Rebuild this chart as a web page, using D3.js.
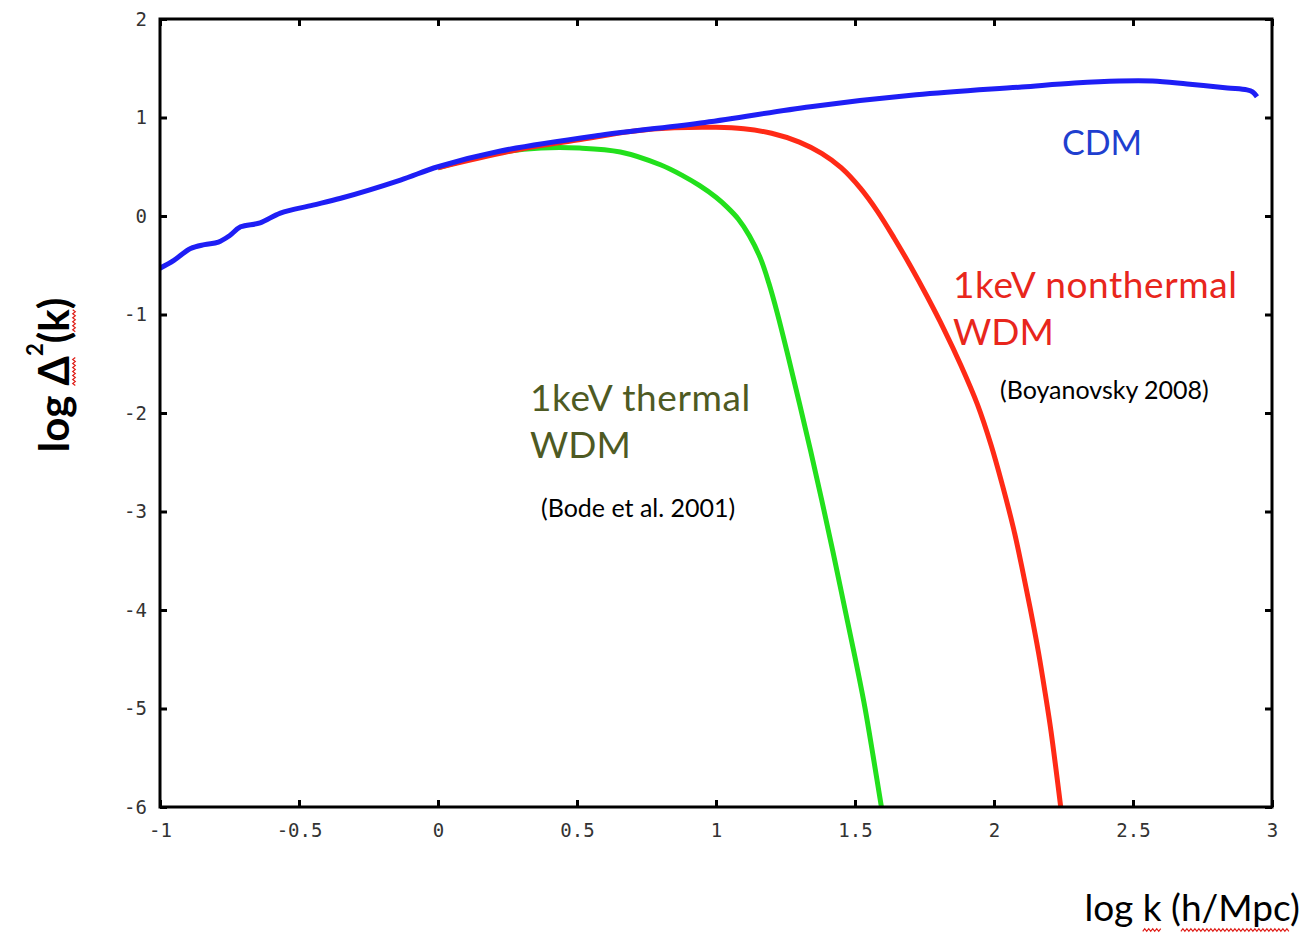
<!DOCTYPE html>
<html>
<head>
<meta charset="utf-8">
<script src="https://cdn.jsdelivr.net/npm/d3@7"></script>
<style>
  body { margin: 0; background: #fff; }
  svg { display: block; }
  .ax text { font-family: 'DejaVu Sans Mono', monospace; font-size: 19px; fill: #333; }
  .ax line { stroke: #000; stroke-width: 3px; }
  .ax path { display: none; }
  .lbl { font-family: Lato, 'Open Sans', sans-serif; }
</style>
</head>
<body>
<svg id="chart"></svg>
<script>
// values: log k (h/Mpc) and log Delta^2(k)
var cdmK = [-1, -0.95, -0.89, -0.84, -0.79, -0.75, -0.71, -0.64, -0.567, -0.45, -0.35, -0.135, 0, 0.225, 0.584, 0.96, 1.34, 1.72, 2.10, 2.29, 2.45, 2.57, 2.695, 2.84, 2.91, 2.93, 2.946]
var cdmD = [-0.53, -0.45, -0.33, -0.29, -0.265, -0.2, -0.11, -0.07, 0.03, 0.11, 0.18, 0.365, 0.5, 0.66, 0.82, 0.95, 1.11, 1.23, 1.31, 1.35, 1.37, 1.37, 1.34, 1.30, 1.28, 1.26, 1.21]

var thermalK = [0, 0.2, 0.37, 0.51, 0.656, 0.80, 0.88, 0.94, 1.0, 1.04, 1.08, 1.12, 1.16, 1.19, 1.22, 1.26, 1.30, 1.34, 1.38, 1.42, 1.46, 1.50, 1.535, 1.565, 1.595]
var thermalD = [0.49, 0.635, 0.69, 0.69, 0.65, 0.52, 0.41, 0.31, 0.19, 0.09, -0.03, -0.2, -0.43, -0.68, -0.98, -1.43, -1.9, -2.38, -2.88, -3.4, -3.94, -4.48, -4.98, -5.48, -6.0]

var nonthermalK = [0, 0.3, 0.5, 0.7, 0.85, 1.0, 1.10, 1.20, 1.30, 1.38, 1.45, 1.52, 1.58, 1.64, 1.70, 1.76, 1.82, 1.88, 1.94, 1.99, 2.03, 2.07, 2.10, 2.13, 2.16, 2.185, 2.205, 2.24]
var nonthermalD = [0.49, 0.68, 0.77, 0.86, 0.895, 0.90, 0.885, 0.84, 0.75, 0.635, 0.49, 0.28, 0.05, -0.22, -0.51, -0.82, -1.15, -1.51, -1.91, -2.33, -2.73, -3.17, -3.56, -3.98, -4.43, -4.86, -5.23, -6.0]

var xTicks = [-1, -0.5, 0, 0.5, 1, 1.5, 2, 2.5, 3]
var yTicks = [-6, -5, -4, -3, -2, -1, 0, 1, 2]

var width = 1308
var height = 936
var margin = {top: 19, right: 36, bottom: 129, left: 160}
var innerw = width - margin.left - margin.right
var innerh = height - margin.top - margin.bottom

var svg = d3.select('#chart').attr('width', width).attr('height', height)

var mapx = d3.scaleLinear().domain([-1, 3]).range([0, innerw])
var mapy = d3.scaleLinear().domain([-6, 2]).range([innerh, 0])

var g = svg.append('g').attr('transform', `translate(${margin.left},${margin.top})`)

g.append('clipPath').attr('id', 'clip')
    .append('rect')
    .attr('width', innerw)
    .attr('height', innerh)

/*
    curves (green and red below, CDM on top)
*/
var series = [
  {k: thermalK, d: thermalD, color: '#22e01c'},
  {k: nonthermalK, d: nonthermalD, color: '#ff2a16'},
  {k: cdmK, d: cdmD, color: '#1e1ef5'}
]

var line = d3.line()
    .x(p => mapx(p[0]))
    .y(p => mapy(p[1]))
    .curve(d3.curveCatmullRom.alpha(0.5))

g.append('g')
    .attr('clip-path', 'url(#clip)')
    .selectAll('path.curve')
    .data(series)
    .enter()
    .append('path')
    .classed('curve', true)
    .attr('d', s => line(s.k.map((v, i) => [v, s.d[i]])))
    .attr('fill', 'none')
    .attr('stroke', s => s.color)
    .attr('stroke-width', 5)
    .attr('stroke-linejoin', 'round')

/*
    axes, ticks pointing inwards on all four sides
*/
g.append('g').classed('ax', true)
    .attr('transform', `translate(0,${innerh})`)
    .call(d3.axisBottom(mapx).tickValues(xTicks).tickSize(-7).tickPadding(17).tickFormat(String))

g.append('g').classed('ax', true)
    .call(d3.axisTop(mapx).tickValues(xTicks).tickSize(-7).tickFormat(''))

g.append('g').classed('ax', true)
    .call(d3.axisLeft(mapy).tickValues(yTicks).tickSize(-7).tickPadding(13).tickFormat(String))

g.append('g').classed('ax', true)
    .attr('transform', `translate(${innerw},0)`)
    .call(d3.axisRight(mapy).tickValues(yTicks).tickSize(-7).tickFormat(''))

g.append('rect')
    .attr('width', innerw)
    .attr('height', innerh)
    .attr('fill', 'none')
    .attr('stroke', '#000')
    .attr('stroke-width', 3)

/*
    annotations
*/
var notes = [
  {text: 'CDM', x: 1062, y: 155, size: 34, color: '#1f3fcf', sp: 0},
  {text: '1keV nonthermal', x: 953, y: 298, size: 37, color: '#e8261c', sp: 0.6},
  {text: 'WDM', x: 953, y: 345, size: 37, color: '#e8261c', sp: 0},
  {text: '(Boyanovsky 2008)', x: 1000, y: 399, size: 25, color: '#000', sp: 0},
  {text: '1keV thermal', x: 530, y: 411, size: 37, color: '#4e5a23', sp: 0.6},
  {text: 'WDM', x: 530, y: 458, size: 37, color: '#4e5a23', sp: 0},
  {text: '(Bode et al. 2001)', x: 541, y: 517, size: 25, color: '#000', sp: 0}
]

svg.selectAll('text.note')
    .data(notes)
    .enter()
    .append('text')
    .attr('class', 'note lbl')
    .attr('x', d => d.x)
    .attr('y', d => d.y)
    .attr('font-size', d => d.size)
    .attr('letter-spacing', d => d.sp)
    .attr('fill', d => d.color)
    .text(d => d.text)

// red spell-check squiggle under a run of characters
function squiggle (parent, textEl, from, to, off) {
  var x0 = textEl.getStartPositionOfChar(from).x
  var x1 = textEl.getEndPositionOfChar(to).x
  var y = textEl.getStartPositionOfChar(from).y + off
  var pts = []
  for (var x = x0, i = 0; x <= x1; x += 2, i++) pts.push([x, y + (i % 2 ? -1.3 : 1.3)])
  parent.append('path')
      .attr('d', d3.line()(pts))
      .attr('fill', 'none')
      .attr('stroke', '#e0201a')
      .attr('stroke-width', 1.2)
}

// x axis title
var xg = svg.append('g')
var xt = xg.append('text')
    .attr('class', 'lbl')
    .attr('x', 1300)
    .attr('y', 921)
    .attr('text-anchor', 'end')
    .attr('font-size', 37)
    .attr('fill', '#000')
    .text('log k (h/Mpc)')
squiggle(xg, xt.node(), 4, 4, 9)
squiggle(xg, xt.node(), 7, 11, 9)

// y axis title
var yg = svg.append('g').attr('transform', 'translate(69,375) rotate(-90)')
var yt = yg.append('text')
    .attr('class', 'lbl')
    .attr('text-anchor', 'middle')
    .attr('font-size', 42)
    .attr('font-weight', 'bold')
    .attr('fill', '#000')
yt.append('tspan').text('log Δ')
yt.append('tspan').attr('font-size', 22).attr('dy', -26).text('2')
yt.append('tspan').attr('dy', 26).text('(k)')
squiggle(yg, yt.node(), 4, 4, 5)
squiggle(yg, yt.node(), 7, 7, 5)
</script>
</body>
</html>
